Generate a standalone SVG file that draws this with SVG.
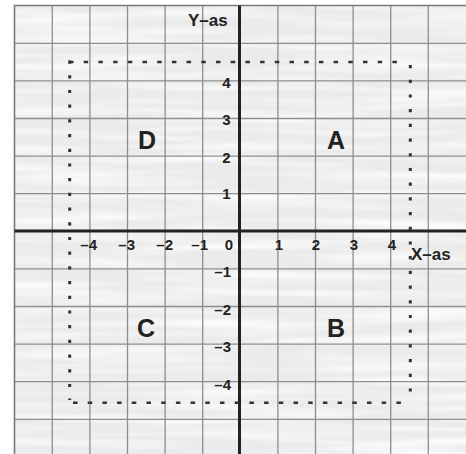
<svg xmlns="http://www.w3.org/2000/svg" width="466" height="454" viewBox="0 0 466 454">
  <defs>
    <filter id="wood" x="0" y="0" width="100%" height="100%">
      <feTurbulence type="fractalNoise" baseFrequency="0.006 0.11" numOctaves="2" seed="7" result="n"/>
      <feColorMatrix in="n" type="matrix" values="0 0 0 0 1  0 0 0 0 1  0 0 0 0 1  2.2 0 0 0 -0.85"/>
    </filter>
    <style>
      .grid { stroke: #8e8e8e; stroke-width: 1.3; fill: none; }
      .border { stroke: #7a7a7a; stroke-width: 1.6; fill: none; }
      .axis { stroke: #222; stroke-width: 3; fill: none; }
      .hdots { stroke: #333; stroke-width: 2.6; fill: none; stroke-dasharray: 4.5 10.2; }
      .vdots { stroke: #333; stroke-width: 3; fill: none; stroke-dasharray: 3.2 11.5; }
      text { font-family: "Liberation Sans", Arial, sans-serif; font-weight: bold; fill: #222; }
      .num { font-size: 15px; }
      .axlab { font-size: 17px; }
      .quad { font-size: 25px; text-anchor: middle; }
    </style>
  </defs>
  <rect x="0" y="0" width="466" height="454" fill="#ffffff"/>
  <g id="background">
    <rect x="14.5" y="5.5" width="452" height="449" fill="#ebebeb"/>
    <rect x="14.5" y="5.5" width="452" height="449" filter="url(#wood)" opacity="0.85"/>
  </g>
  <g id="grid">
    <path class="grid" d="M52.3 5.5V454 M89.9 5.5V454 M127.5 5.5V454 M165.1 5.5V454 M202.7 5.5V454 M277.9 5.5V454 M315.5 5.5V454 M353.1 5.5V454 M390.7 5.5V454 M428.3 5.5V454"/>
    <path class="grid" d="M14.5 43.3H466 M14.5 80.9H466 M14.5 118.5H466 M14.5 156.1H466 M14.5 193.7H466 M14.5 268.9H466 M14.5 306.5H466 M14.5 344.1H466 M14.5 381.7H466 M14.5 419.3H466"/>
    <path class="border" d="M14.5 454V5.5H466"/>
  </g>
  <g id="connectors">
    <path class="axis" d="M239.5 5.5V454"/>
    <path class="axis" d="M14.5 231H466"/>
    <path class="hdots" d="M69 62H405 M73 402.7H405"/>
    <path class="vdots" d="M69.7 60.5V400 M410.3 65V400"/>
  </g>
  <g id="axis-labels">
    <text class="axlab" x="188" y="26">Y–as</text>
    <text class="axlab" x="411" y="259.5">X–as</text>
  </g>
  <g id="x-ticks">
    <text class="num" x="97" y="249.5" text-anchor="end">–4</text>
    <text class="num" x="135" y="249.5" text-anchor="end">–3</text>
    <text class="num" x="173" y="249.5" text-anchor="end">–2</text>
    <text class="num" x="208" y="249.5" text-anchor="end">–1</text>
    <text class="num" x="233" y="249.5" text-anchor="end">0</text>
    <text class="num" x="279" y="249.5" text-anchor="middle">1</text>
    <text class="num" x="316" y="249.5" text-anchor="middle">2</text>
    <text class="num" x="354" y="249.5" text-anchor="middle">3</text>
    <text class="num" x="392" y="249.5" text-anchor="middle">4</text>
  </g>
  <g id="y-ticks">
    <text class="num" x="230.5" y="87.5" text-anchor="end">4</text>
    <text class="num" x="230.5" y="125" text-anchor="end">3</text>
    <text class="num" x="230.5" y="163" text-anchor="end">2</text>
    <text class="num" x="230.5" y="199" text-anchor="end">1</text>
    <text class="num" x="231" y="277" text-anchor="end">–1</text>
    <text class="num" x="231" y="315" text-anchor="end">–2</text>
    <text class="num" x="231" y="352" text-anchor="end">–3</text>
    <text class="num" x="231" y="390" text-anchor="end">–4</text>
  </g>
  <g id="quadrant-A"><text class="quad" x="336" y="148.5">A</text></g>
  <g id="quadrant-B"><text class="quad" x="336" y="336.5">B</text></g>
  <g id="quadrant-C"><text class="quad" x="146" y="336.5">C</text></g>
  <g id="quadrant-D"><text class="quad" x="147" y="148.5">D</text></g>
</svg>
